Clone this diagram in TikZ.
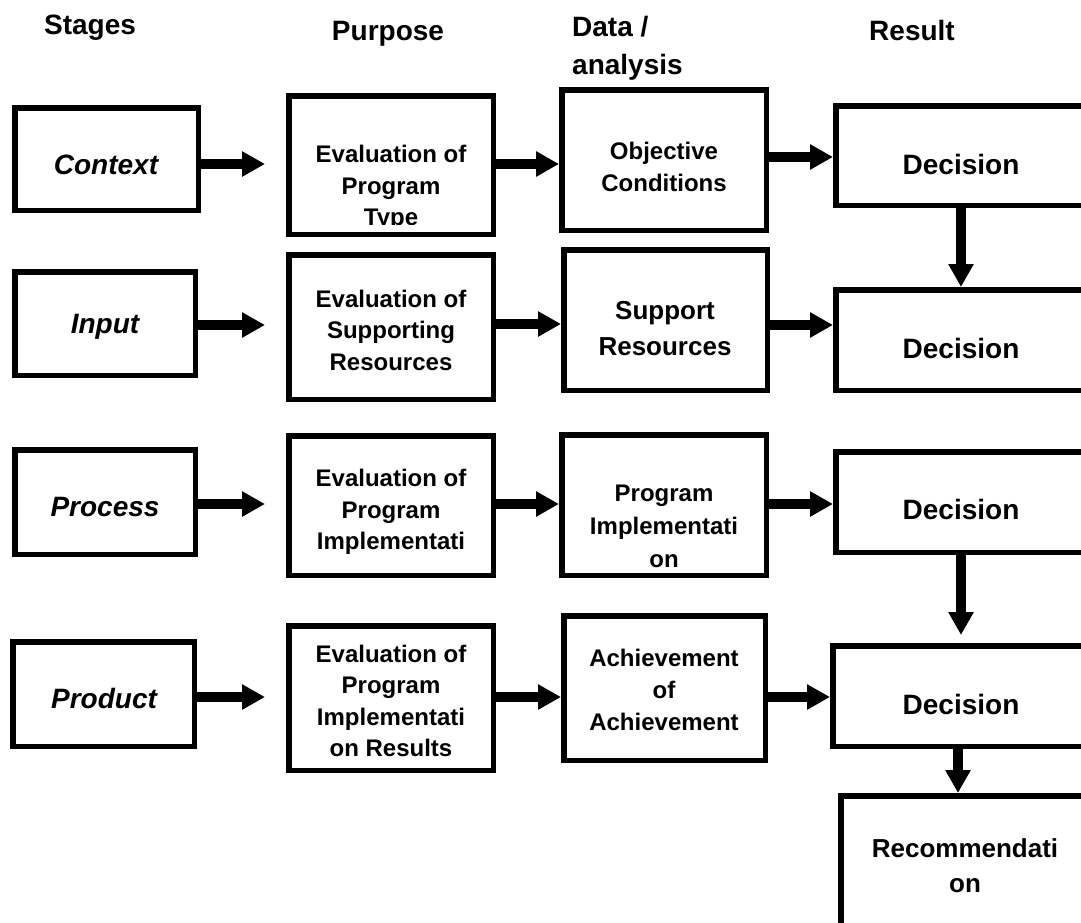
\documentclass[tikz,border=0pt]{standalone}
\usepackage{fontspec}
\setmainfont{Liberation Sans}
\usetikzlibrary{arrows.meta}
\newcommand{\mkbox}[5]{\node[box, minimum width={(#4-#2-5.5)*1pt}, minimum height={(#5-#3-5.5)*1pt}] (#1) at ({(#2+#4)/2},{(#3+#5)/2}) {};}
\begin{document}
\begin{tikzpicture}[x=1pt,y=-1pt,
  box/.style={draw, line width=5.5pt, inner sep=0pt, fill=white},
  arr/.style={line width=10pt, -{Triangle[length=23pt,width=24pt]}},
  hdr/.style={font=\fontsize{28}{38}\selectfont\bfseries, inner sep=0pt},
  stg/.style={font=\fontsize{28}{34}\selectfont\bfseries\itshape, inner sep=0pt},
  t24/.style={font=\fontsize{24}{31.5}\selectfont\bfseries, align=center, inner sep=0pt},
  t26/.style={font=\fontsize{26}{36}\selectfont\bfseries, align=center, inner sep=0pt},
  dect/.style={font=\fontsize{28}{34}\selectfont\bfseries, inner sep=0pt}]
\useasboundingbox (0,0) rectangle (1081,922);
\clip (0,0) rectangle (1081,922);

% headers
\node[hdr] (hStages) at (90,28) {Stages};
\node[hdr] (hPurpose) at (388,34) {Purpose};
\node[hdr, align=left, anchor=west] (hData) at (572,48) {Data /\\analysis};
\node[hdr] (hResult) at (912,30) {Result};

% boxes
\mkbox{ctx}{12}{105}{201}{213}
\mkbox{inp}{12}{269}{198}{378}
\mkbox{pro}{12}{447}{198}{557}
\mkbox{prd}{10}{639}{197}{749}
\mkbox{pur1}{286}{93}{496}{237}
\mkbox{pur2}{286}{252}{496}{402}
\mkbox{pur3}{286}{433}{496}{578}
\mkbox{pur4}{286}{623}{496}{773}
\mkbox{dat1}{559}{87}{769}{233}
\mkbox{dat2}{561}{247}{770}{393}
\mkbox{dat3}{559}{432}{769}{578}
\mkbox{dat4}{561}{613}{768}{763}
\mkbox{dec1}{833}{103}{1092}{208}
\mkbox{dec2}{833}{287}{1092}{393}
\mkbox{dec3}{833}{449}{1092}{555}
\mkbox{dec4}{830}{643}{1092}{749}
\mkbox{rec}{838}{793}{1092}{960}

% texts
\node[stg] (ctxT) at (106,165) {Context};
\node[stg] (inpT) at (105,327) {Input};
\node[stg] (proT) at (105,507) {Process};
\node[stg] (prdT) at (104,698) {Product};

\begin{scope}
\clip (289,96) rectangle (493,224);
\node[t24] (pur1T) at (391,188) {Evaluation of\\Program\\Type};
\end{scope}
\node[t24] (pur2T) at (391,330) {Evaluation of\\Supporting\\Resources};
\node[t24] (pur3T) at (391,512) {Evaluation of\\Program\\Implementati};
\node[t24] (pur4T) at (391,701) {Evaluation of\\Program\\Implementati\\on Results};

\node[t24] (dat1T) at (664,167) {Objective\\Conditions};
\node[t26] (dat2T) at (665,329) {Support\\Resources};
\node[t24, font=\fontsize{24}{33}\selectfont\bfseries] (dat3T) at (664,526) {Program\\Implementati\\on};
\node[t24, font=\fontsize{24}{32}\selectfont\bfseries] (dat4T) at (664,690) {Achievement\\of\\Achievement};

\node[dect] (dec1T) at (961,164) {Decision};
\node[dect] (dec2T) at (961,348) {Decision};
\node[dect] (dec3T) at (961,509) {Decision};
\node[dect] (dec4T) at (961,704) {Decision};
\node[t26, font=\fontsize{26}{35}\selectfont\bfseries] (recT) at (965,866) {Recommendati\\on};

% horizontal arrows
\draw[arr, shorten >=21pt] (ctx.east |- 0,164) -- (pur1.west |- 0,164);
\draw[arr] (pur1.east |- 0,164) -- (dat1.west |- 0,164);
\draw[arr] (dat1.east |- 0,157) -- (dec1.west |- 0,157);
\draw[arr, shorten >=21pt] (inp.east |- 0,325) -- (pur2.west |- 0,325);
\draw[arr] (pur2.east |- 0,324) -- (dat2.west |- 0,324);
\draw[arr] (dat2.east |- 0,325) -- (dec2.west |- 0,325);
\draw[arr, shorten >=21pt] (pro.east |- 0,504) -- (pur3.west |- 0,504);
\draw[arr] (pur3.east |- 0,504) -- (dat3.west |- 0,504);
\draw[arr] (dat3.east |- 0,504) -- (dec3.west |- 0,504);
\draw[arr, shorten >=21pt] (prd.east |- 0,697) -- (pur4.west |- 0,697);
\draw[arr] (pur4.east |- 0,697) -- (dat4.west |- 0,697);
\draw[arr] (dat4.east |- 0,697) -- (dec4.west |- 0,697);

% vertical arrows
\draw[arr] (dec1.south -| 961,0) -- (dec2.north -| 961,0);
\draw[arr, shorten >=8pt] (dec3.south -| 961,0) -- (dec4.north -| 961,0);
\draw[arr] (dec4.south -| 958,0) -- (rec.north -| 958,0);
\end{tikzpicture}
\end{document}
